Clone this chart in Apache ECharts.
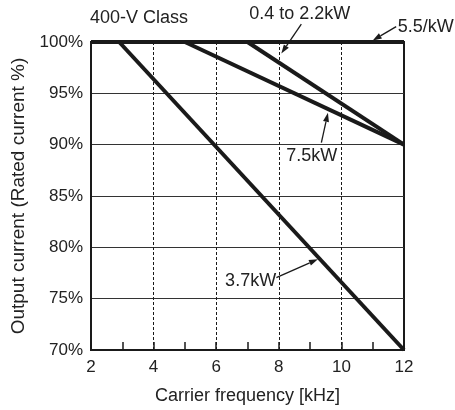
<!DOCTYPE html>
<html>
<head>
<meta charset="utf-8">
<script src="https://cdn.jsdelivr.net/npm/echarts@6/dist/echarts.min.js"></script>
<style>
  html, body { margin: 0; padding: 0; background: #ffffff; }
  #chart { width: 455px; height: 410px; }
</style>
</head>
<body>
<div id="chart"></div>
<script>
// derating lines, [carrier kHz, rated current %]
const kw04to22 = [[7, 100], [12, 90]]
const kw55 = [[2, 100], [12, 100]]
const kw75 = [[5, 100], [12, 90]]
const kw37 = [[2.9, 100], [12, 70]]

const xTicks = [2, 4, 6, 8, 10, 12]
const yTicks = [70, 75, 80, 85, 90, 95, 100]

// callouts in data units: arrow from -> to, label anchor
const callouts = [
  { text: '0.4 to 2.2kW', from: [8.72, 101.75], to: [8.08, 98.87], label: [8.67, 102.75], align: 'center' },
  { text: '5.5/kW', from: [11.75, 101.5], to: [11.0, 100.15], label: [11.8, 101.45], align: 'left' },
  { text: '7.5kW', from: [9.36, 90.2], to: [9.57, 93.1], label: [9.05, 88.9], align: 'center' },
  { text: '3.7kW', from: [7.92, 77.05], to: [9.25, 78.85], label: [7.1, 76.7], align: 'center' }
]

const ink = '#1a1a1a'
const font = 'Liberation Sans, Arial, sans-serif'

let myChart = echarts.init(document.getElementById('chart'))

function lineSeries(name, data) {
  return {
    name: name,
    type: 'line',
    data: data,
    symbol: 'none',
    clip: false,
    lineStyle: { color: ink, width: 4 },
    z: 5
  }
}

let option = {
  animation: false,
  backgroundColor: '#ffffff',
  textStyle: { fontFamily: font },
  grid: {
    left: 91, right: 51, top: 42, bottom: 56,
    show: true,
    borderColor: ink,
    borderWidth: 2
  },
  xAxis: {
    type: 'value',
    min: xTicks[0],
    max: xTicks[xTicks.length - 1],
    interval: 2,
    name: 'Carrier frequency [kHz]',
    nameLocation: 'middle',
    nameGap: 37,
    nameTextStyle: { color: '#222', fontSize: 18, fontFamily: font },
    axisLine: { show: true, lineStyle: { color: ink, width: 2 } },
    axisTick: { show: true, inside: true, length: 8, lineStyle: { color: ink, width: 1.5 } },
    minorTick: { show: true, splitNumber: 2, length: 8, lineStyle: { color: ink, width: 1.5 } },
    axisLabel: { color: '#222', fontSize: 17, margin: 9, fontFamily: font },
    splitLine: { show: true, lineStyle: { color: ink, width: 1, type: [3, 2] } }
  },
  yAxis: {
    type: 'value',
    min: yTicks[0],
    max: yTicks[yTicks.length - 1],
    interval: 5,
    name: 'Output current (Rated current %)',
    nameLocation: 'middle',
    nameGap: 56,
    nameTextStyle: { color: '#222', fontSize: 19, fontFamily: font },
    axisLine: { show: true, lineStyle: { color: ink, width: 2 } },
    axisTick: { show: false },
    axisLabel: { color: '#222', fontSize: 17, margin: 8, formatter: '{value}%', fontFamily: font },
    splitLine: { show: true, lineStyle: { color: '#333', width: 1 } }
  },
  series: [
    lineSeries('5.5kW', kw55),
    lineSeries('0.4 to 2.2kW', kw04to22),
    lineSeries('7.5kW', kw75),
    lineSeries('3.7kW', kw37)
  ]
}
myChart.setOption(option)

// title and arrow callouts
let graphics = [{
  type: 'text',
  left: 90,
  top: 9,
  style: { text: '400-V Class', fill: '#222', font: '18px ' + font }
}]
callouts.forEach(function (c) {
  let p0 = myChart.convertToPixel({ gridIndex: 0 }, c.from)
  let p1 = myChart.convertToPixel({ gridIndex: 0 }, c.to)
  let pl = myChart.convertToPixel({ gridIndex: 0 }, c.label)
  let ang = Math.atan2(p1[1] - p0[1], p1[0] - p0[0])
  let len = 9, half = 3
  let bx = p1[0] - len * Math.cos(ang), by = p1[1] - len * Math.sin(ang)
  graphics.push({
    type: 'line', z: 20,
    shape: { x1: p0[0], y1: p0[1], x2: bx, y2: by },
    style: { stroke: ink, lineWidth: 1.3 }
  })
  graphics.push({
    type: 'polygon', z: 20,
    shape: { points: [
      [p1[0], p1[1]],
      [bx - half * Math.sin(ang), by + half * Math.cos(ang)],
      [bx + half * Math.sin(ang), by - half * Math.cos(ang)]
    ] },
    style: { fill: ink }
  })
  graphics.push({
    type: 'text', z: 21,
    x: pl[0], y: pl[1],
    style: {
      text: c.text, fill: '#222', font: '18px ' + font,
      align: c.align, verticalAlign: 'middle',
      backgroundColor: c.text === '3.7kW' || c.text === '7.5kW' ? '#ffffff' : null
    }
  })
})
myChart.setOption({ graphic: graphics })
</script>
</body>
</html>
